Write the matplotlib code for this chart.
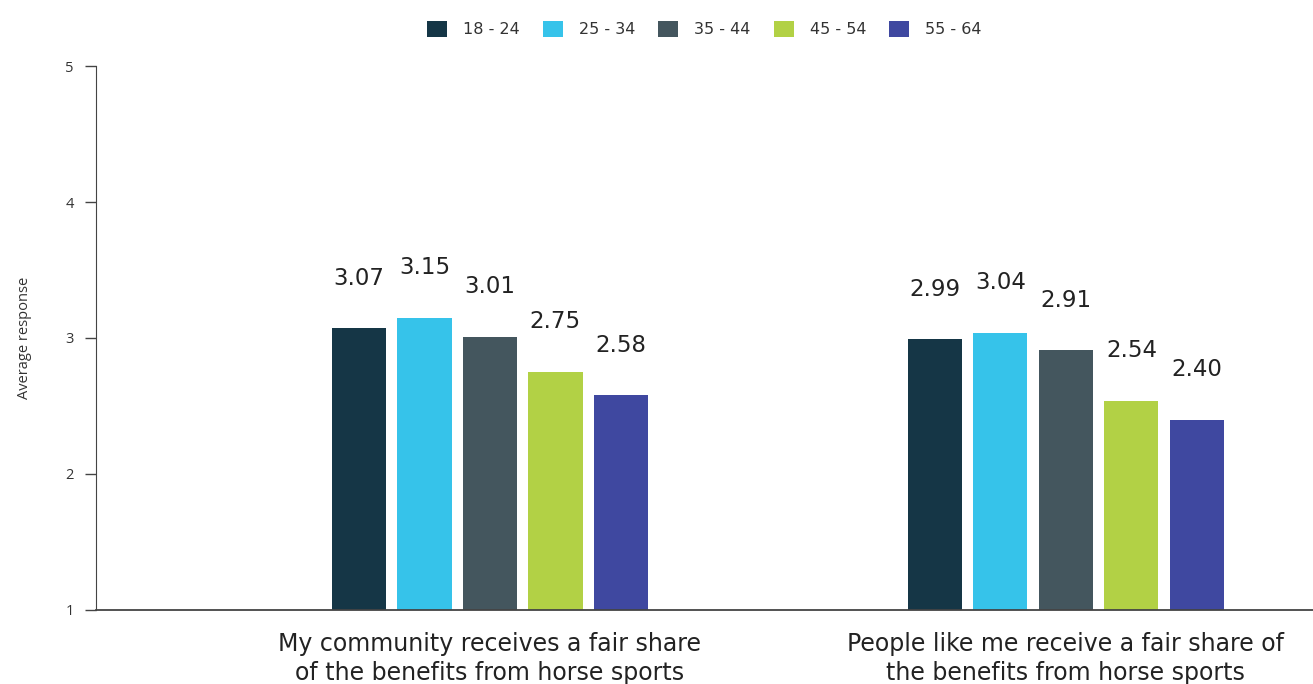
import matplotlib.pyplot as plt
import numpy as np

# Data
categories = ["My community receives a fair share\nof the benefits from horse sports",
              "People like me receive a fair share of\nthe benefits from horse sports"]
age_groups = ["18 - 24", "25 - 34", "35 - 44", "45 - 54", "55 - 64"]
values = {
    "18 - 24": [3.07, 2.99],
    "25 - 34": [3.15, 3.04],
    "35 - 44": [3.01, 2.91],
    "45 - 54": [2.75, 2.54],
    "55 - 64": [2.58, 2.40],
}
colors = ["#153646", "#36c3ea", "#44565e", "#b2d145", "#3f48a0"]

fig = plt.figure(figsize=(13.13, 6.84), dpi=100)
ax = fig.add_axes([0.0731, 0.1082, 0.9269, 0.7953])

x = np.arange(len(categories))
step = 0.1137
width = 0.094
for i, grp in enumerate(age_groups):
    pos = x + (i - 2) * step
    ax.bar(pos, values[grp], width, color=colors[i], label=grp, zorder=2)
    for px, v in zip(pos, values[grp]):
        ax.annotate(f"{v:.2f}", (px, v), xytext=(0, 36), textcoords="offset points",
                    ha="center", va="center", fontsize=16.5, color="#222222")

ax.set_ylim(1, 5)
ax.set_xlim(-0.684, 1.429)
ax.set_yticks([1, 2, 3, 4, 5])
ax.set_xticks(x)
ax.set_xticklabels(categories, fontsize=17, color="#222222", linespacing=1.25)
ax.tick_params(axis="x", length=0, pad=16)
ax.tick_params(axis="y", length=8, width=1, color="#444444", labelsize=10.5,
               labelcolor="#333333", pad=8)
for lab in ax.get_yticklabels():
    lab.set_family("Open Sans")
ax.set_ylabel("Average response", fontsize=10.5, color="#333333", family="Open Sans", labelpad=24)

ax.spines["top"].set_visible(False)
ax.spines["right"].set_visible(False)
ax.spines["left"].set_color("#444444")
ax.spines["bottom"].set_color("#444444")
ax.spines["bottom"].set_linewidth(1.3)

leg = ax.legend(loc="center", bbox_to_anchor=(0.5, 1.068), ncol=5, frameon=False,
                fontsize=11.5, handlelength=1.25, handleheight=1.25, handletextpad=1.0,
                columnspacing=1.45)
for t in leg.get_texts():
    t.set_color("#333333")

fig.savefig("out.png", dpi=100)
